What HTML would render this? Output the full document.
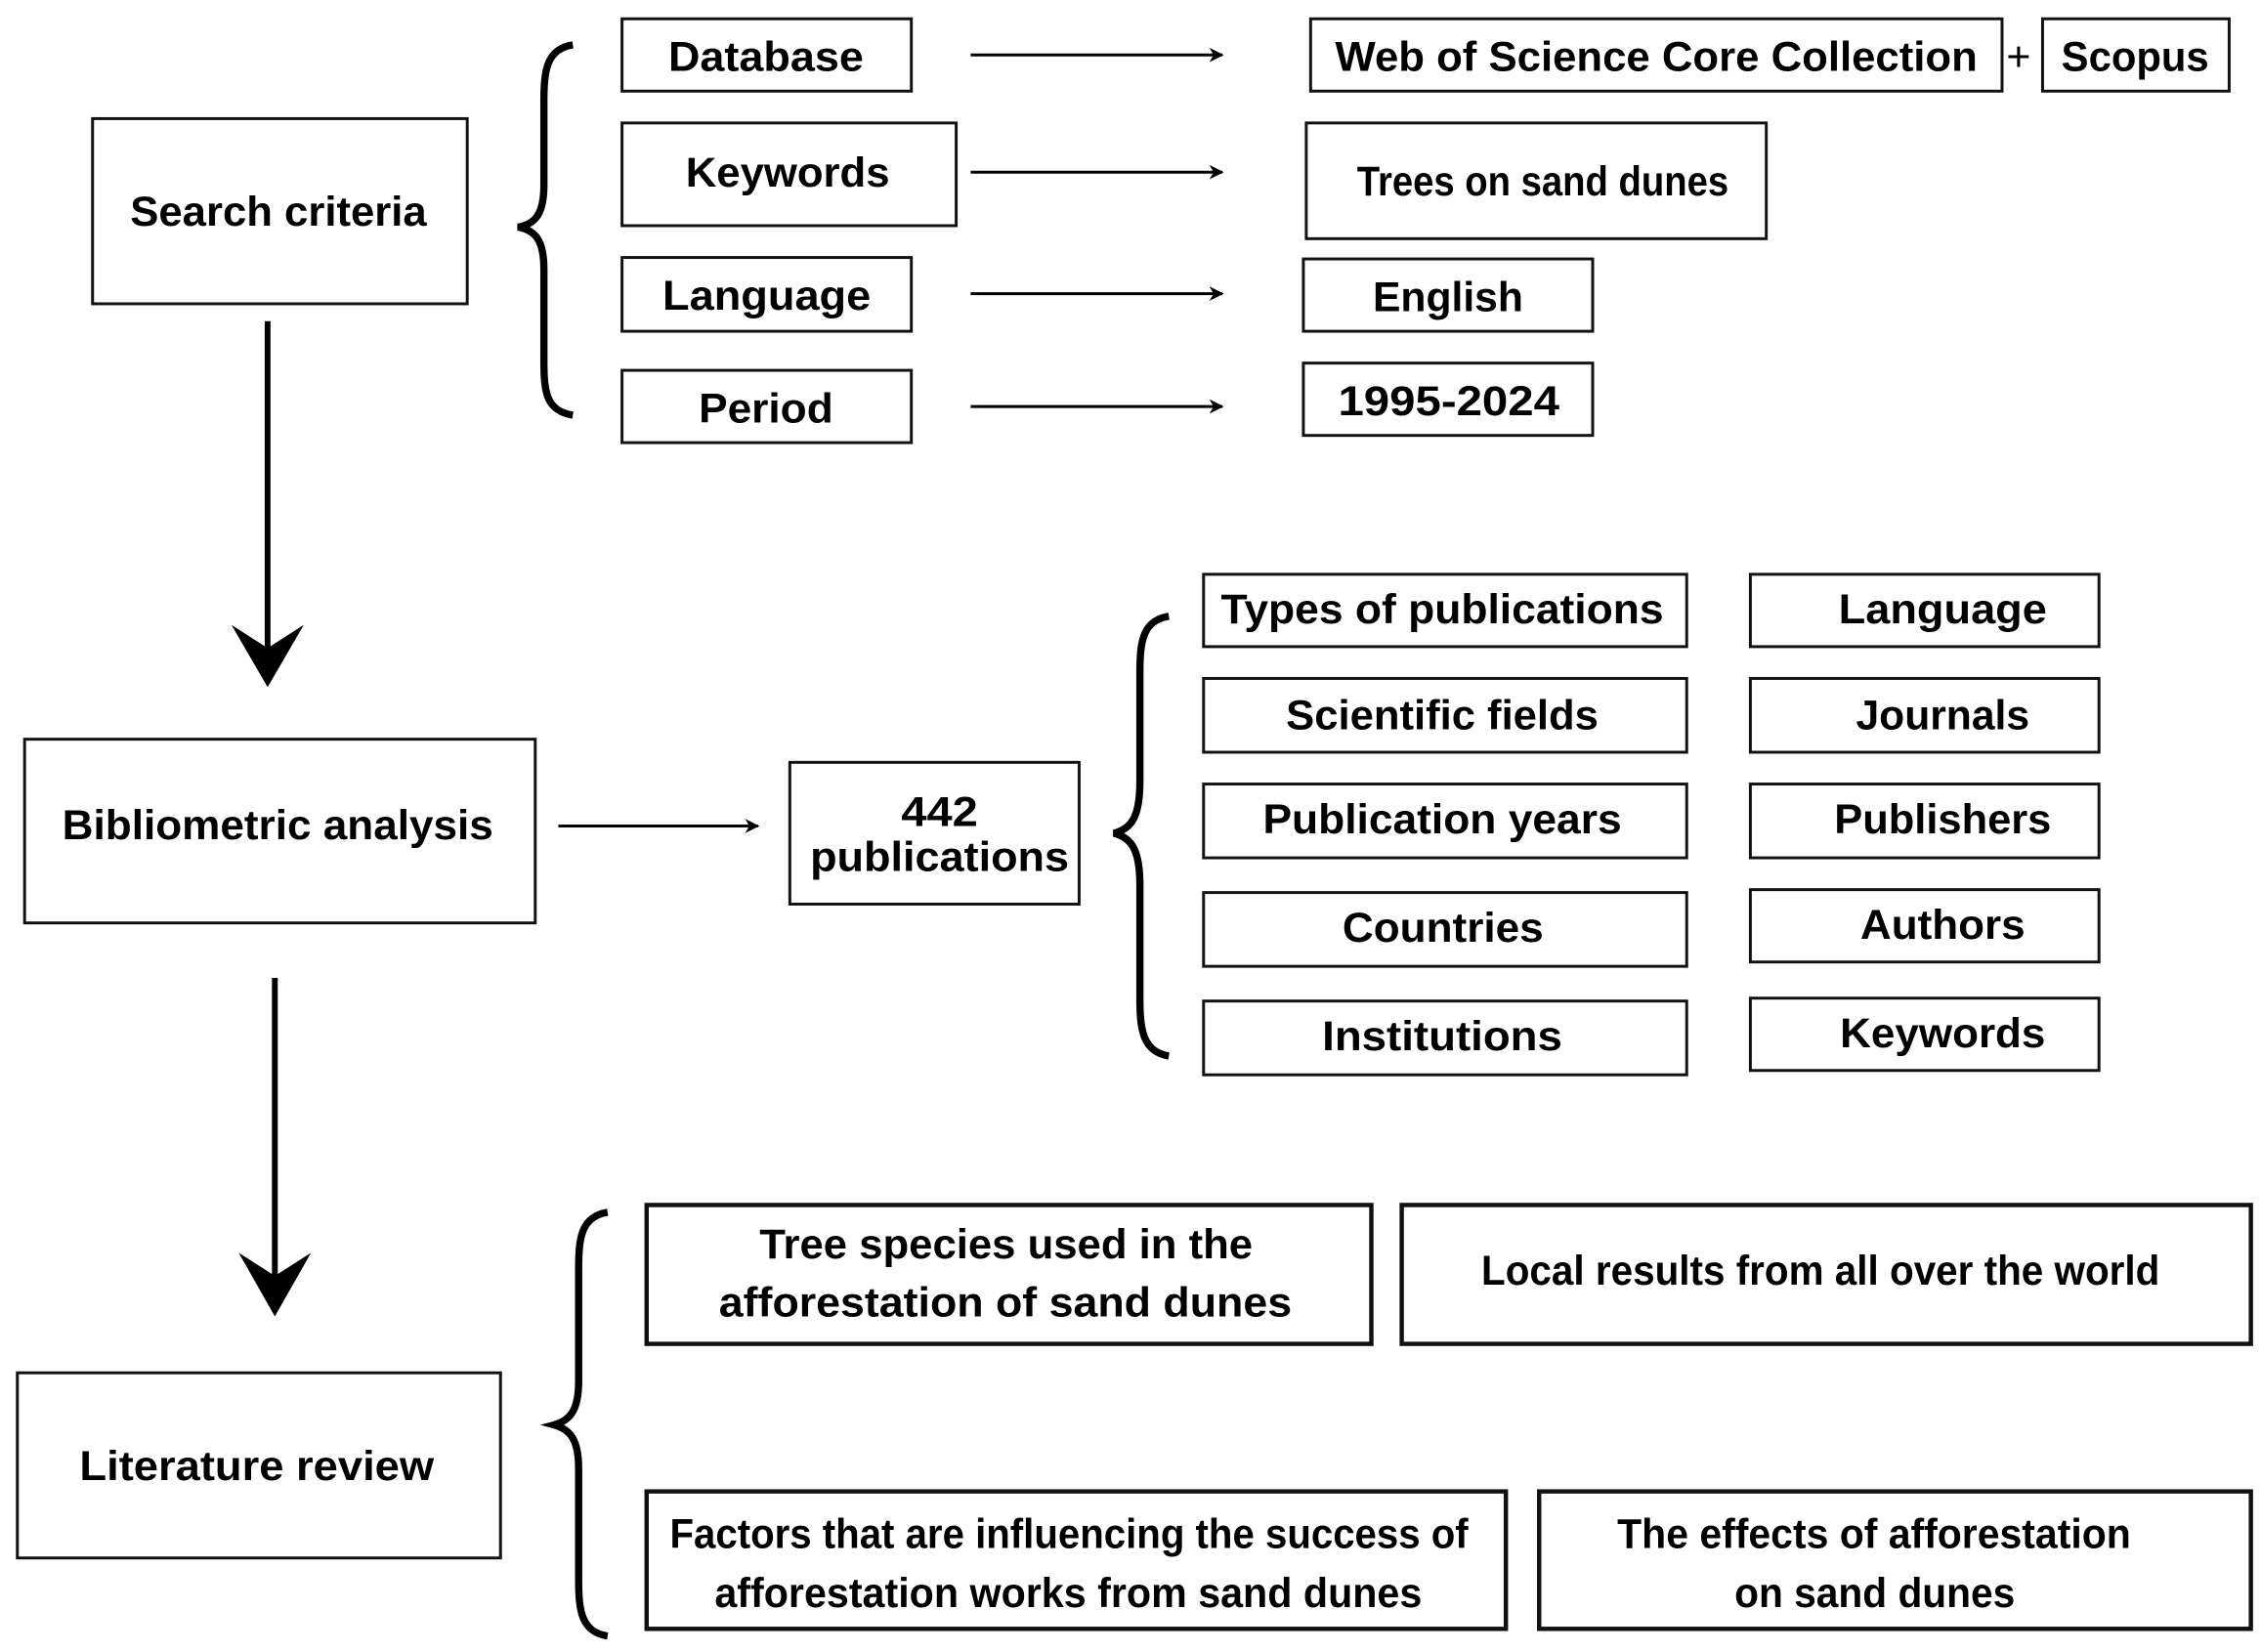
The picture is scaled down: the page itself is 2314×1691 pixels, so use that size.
<!DOCTYPE html>
<html><head><meta charset="utf-8"><style>html,body{margin:0;padding:0;background:#fff}svg{display:block}</style></head>
<body>
<svg width="2314" height="1691" viewBox="0 0 1563 1142" preserveAspectRatio="none" xmlns="http://www.w3.org/2000/svg">
<defs>
<marker id="a" markerWidth="10" markerHeight="10" refX="9" refY="5" orient="auto" markerUnits="userSpaceOnUse"><path d="M0,0 L10,5 L0,10 L3,5 Z" fill="#000"/></marker>
</defs>
<g fill="none" stroke="#111" stroke-width="2">
<rect x="64" y="82" width="259" height="128"/>
<rect x="430" y="13" width="200" height="50"/>
<rect x="430" y="85" width="231" height="71"/>
<rect x="430" y="178" width="200" height="51"/>
<rect x="430" y="256" width="200" height="50"/>
<rect x="906" y="13" width="478" height="50"/>
<rect x="1412" y="13" width="129" height="50"/>
<rect x="903" y="85" width="318" height="80"/>
<rect x="901" y="179" width="200" height="50"/>
<rect x="901" y="251" width="200" height="50"/>
<rect x="17" y="511" width="353" height="127"/>
<rect x="546" y="527" width="200" height="98"/>
<rect x="832" y="397" width="334" height="50"/>
<rect x="832" y="469" width="334" height="51"/>
<rect x="832" y="542" width="334" height="51"/>
<rect x="832" y="617" width="334" height="51"/>
<rect x="832" y="692" width="334" height="51"/>
<rect x="1210" y="397" width="241" height="50"/>
<rect x="1210" y="469" width="241" height="51"/>
<rect x="1210" y="542" width="241" height="51"/>
<rect x="1210" y="615" width="241" height="50"/>
<rect x="1210" y="690" width="241" height="50"/>
<rect x="12" y="949" width="334" height="128"/>
</g>
<g fill="none" stroke="#111" stroke-width="3">
<rect x="447" y="833" width="501" height="96"/>
<rect x="969" y="833" width="587" height="96"/>
<rect x="447" y="1031" width="594" height="95"/>
<rect x="1064" y="1031" width="492" height="95"/>
</g>
<g stroke="#000" stroke-width="2" marker-end="url(#a)">
<line x1="671" y1="38" x2="845" y2="38"/>
<line x1="671" y1="119" x2="845" y2="119"/>
<line x1="671" y1="203" x2="845" y2="203"/>
<line x1="671" y1="281" x2="845" y2="281"/>
<line x1="386" y1="571" x2="524" y2="571"/>
</g>
<g stroke="#000" stroke-width="4">
<line x1="185" y1="222" x2="185" y2="450"/>
<line x1="190" y1="676" x2="190" y2="885"/>
</g>
<path d="M160,432 L185,475 L210,432 L185,448 Z" fill="#000"/>
<path d="M165,866 L190,910 L215,866 L190,882 Z" fill="#000"/>
<g fill="none" stroke="#000" stroke-width="5">
<path d="M396,31 C378,34 376,48 376,70 L376,128 C376,148 370,155 358,157 C370,159 376,166 376,186 L376,250 C376,272 378,284 396,287"/>
<path d="M808,426 C790,429 788,443 788,465 L788,540 C788,565 782,573 770,576 C782,579 788,587 788,612 L788,690 C788,712 790,727 808,730"/>
<path d="M420,838 C402,841 400,855 400,877 L400,955 C400,975 394,982 383,985 C394,988 400,995 400,1015 L400,1092 C400,1114 402,1128 420,1131"/>
</g>
<g font-family="'Liberation Sans', sans-serif" font-weight="bold" font-size="29" fill="#000" lengthAdjust="spacingAndGlyphs">
<text x="90" y="156" textLength="205" lengthAdjust="spacingAndGlyphs">Search criteria</text>
<text x="462" y="49" textLength="135" lengthAdjust="spacingAndGlyphs">Database</text>
<text x="474" y="129" textLength="141" lengthAdjust="spacingAndGlyphs">Keywords</text>
<text x="458" y="214" textLength="144" lengthAdjust="spacingAndGlyphs">Language</text>
<text x="483" y="292" textLength="93" lengthAdjust="spacingAndGlyphs">Period</text>
<text x="923" y="49" textLength="444" lengthAdjust="spacingAndGlyphs">Web of Science Core Collection</text>
<text x="1387" y="49" font-weight="normal">+</text>
<text x="1425" y="49" textLength="102" lengthAdjust="spacingAndGlyphs">Scopus</text>
<text x="938" y="135" textLength="257" lengthAdjust="spacingAndGlyphs">Trees on sand dunes</text>
<text x="949" y="215" textLength="104" lengthAdjust="spacingAndGlyphs">English</text>
<text x="925" y="287" textLength="153" lengthAdjust="spacingAndGlyphs">1995-2024</text>
<text x="43" y="580" textLength="298" lengthAdjust="spacingAndGlyphs">Bibliometric analysis</text>
<text x="623" y="571" textLength="53" lengthAdjust="spacingAndGlyphs">442</text>
<text x="560" y="602" textLength="179" lengthAdjust="spacingAndGlyphs">publications</text>
<text x="844" y="431" textLength="306" lengthAdjust="spacingAndGlyphs">Types of publications</text>
<text x="889" y="504" textLength="216" lengthAdjust="spacingAndGlyphs">Scientific fields</text>
<text x="873" y="576" textLength="248" lengthAdjust="spacingAndGlyphs">Publication years</text>
<text x="928" y="651" textLength="139" lengthAdjust="spacingAndGlyphs">Countries</text>
<text x="914" y="726" textLength="166" lengthAdjust="spacingAndGlyphs">Institutions</text>
<text x="1271" y="431" textLength="144" lengthAdjust="spacingAndGlyphs">Language</text>
<text x="1283" y="504" textLength="120" lengthAdjust="spacingAndGlyphs">Journals</text>
<text x="1268" y="576" textLength="150" lengthAdjust="spacingAndGlyphs">Publishers</text>
<text x="1286" y="649" textLength="114" lengthAdjust="spacingAndGlyphs">Authors</text>
<text x="1272" y="724" textLength="142" lengthAdjust="spacingAndGlyphs">Keywords</text>
<text x="55" y="1023" textLength="245" lengthAdjust="spacingAndGlyphs">Literature review</text>
<text x="525" y="870" textLength="341" lengthAdjust="spacingAndGlyphs">Tree species used in the</text>
<text x="497" y="910" textLength="396" lengthAdjust="spacingAndGlyphs">afforestation of sand dunes</text>
<text x="1024" y="888" textLength="469" lengthAdjust="spacingAndGlyphs">Local results from all over the world</text>
<text x="463" y="1070" textLength="552" lengthAdjust="spacingAndGlyphs">Factors that are influencing the success of</text>
<text x="494" y="1111" textLength="489" lengthAdjust="spacingAndGlyphs">afforestation works from sand dunes</text>
<text x="1118" y="1070" textLength="355" lengthAdjust="spacingAndGlyphs">The effects of afforestation</text>
<text x="1199" y="1111" textLength="194" lengthAdjust="spacingAndGlyphs">on sand dunes</text>
</g>
</svg>
</body></html>
